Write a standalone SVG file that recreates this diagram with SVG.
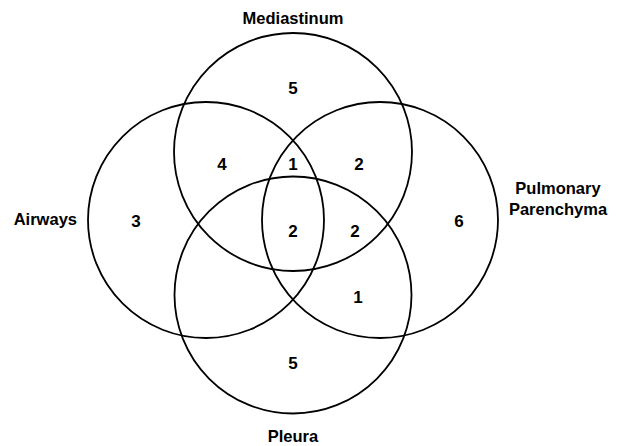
<svg xmlns="http://www.w3.org/2000/svg" width="618" height="446" viewBox="0 0 618 446">
<style>
.c{fill:none;stroke:#000;stroke-width:1.8}
.lbl{font-family:"Liberation Sans",Arial,sans-serif;font-weight:bold;font-size:16.5px;fill:#000}
.n{font-family:"Liberation Sans",Arial,sans-serif;font-weight:bold;font-size:17px;fill:#000;text-anchor:middle}
</style>
<rect width="618" height="446" fill="#fff"/>
<g id="mediastinum"><circle class="c" cx="293" cy="152" r="119"/><text class="lbl" x="293" y="24" text-anchor="middle">Mediastinum</text></g>
<g id="airways"><circle class="c" cx="206" cy="220" r="118"/><text class="lbl" x="77" y="225" text-anchor="end">Airways</text></g>
<g id="pulmonary"><circle class="c" cx="380" cy="220" r="118"/><text class="lbl" x="558" y="194" text-anchor="middle">Pulmonary</text><text class="lbl" x="558" y="215" text-anchor="middle">Parenchyma</text></g>
<g id="pleura"><circle class="c" cx="293" cy="295" r="118.5"/><text class="lbl" x="293" y="442" text-anchor="middle">Pleura</text></g>
<g id="counts">
<text class="n" x="293" y="94">5</text>
<text class="n" x="222" y="170">4</text>
<text class="n" x="293" y="170">1</text>
<text class="n" x="359" y="170">2</text>
<text class="n" x="136" y="227">3</text>
<text class="n" x="293" y="237">2</text>
<text class="n" x="355" y="237">2</text>
<text class="n" x="459" y="227">6</text>
<text class="n" x="358" y="303">1</text>
<text class="n" x="293" y="369">5</text>
</g>
</svg>
